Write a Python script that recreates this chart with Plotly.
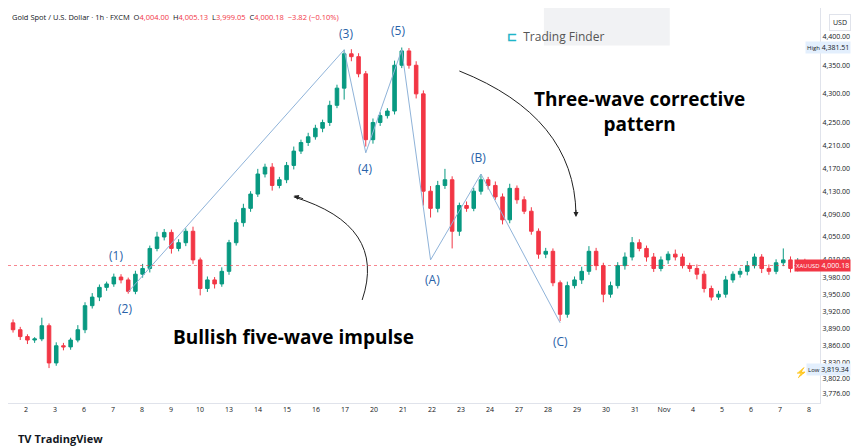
import plotly.graph_objects as go

# ---- data (hourly-ish candles) ----
closes = [3888,3876,3870,3872,3895,3830,3860,3858,3870,3888,
          3930,3945,3962,3968,3980,3975,3955,3985,3995,4030,
          4050,4058,4030,4040,4060,4010,3960,3975,3968,3990,
          4040,4075,4100,4125,4160,4172,4140,4150,4175,4200,
          4215,4225,4240,4250,4280,4310,4370,4365,4335,4220,
          4250,4262,4270,4350,4375,4350,4300,4130,4100,4140,
          4150,4060,4105,4100,4130,4150,4140,4120,4080,4135,
          4115,4095,4060,4020,4025,3970,3915,3965,3975,3990,
          4025,4000,3950,3965,4000,4015,4040,4030,4015,3995,
          4010,4020,4015,4000,3995,3985,3960,3945,3950,3975,
          3985,3990,4000,4015,3995,3990,4005,4010,3995,4008,4000.18]
first_open = 3900
upper_wick = [6,5,4,3,14,4,6,5,4,8,6,7,5,4,6,5,4,6,8,5,
              9,6,5,6,5,8,4,6,5,7,5,6,8,5,9,6,7,5,6,8,
              5,7,6,5,8,6,7,8,6,5,7,6,5,8,6,5,7,6,9,8,
              19,6,5,7,6,10,5,7,6,8,5,6,7,5,6,5,4,7,6,8,
              9,6,5,7,6,8,10,6,5,7,6,5,8,6,5,7,6,5,6,7,
              5,6,8,6,5,7,6,20,6,5,4]
lower_wick = [5,6,7,5,4,9,5,6,5,4,6,5,7,6,5,6,4,5,6,7,
              5,6,9,5,6,7,12,6,8,5,6,5,7,6,5,6,9,5,6,7,
              5,6,5,7,6,5,20,8,6,12,7,6,5,6,5,6,8,25,16,7,
              6,30,8,6,5,6,7,5,8,6,7,5,6,8,7,6,12,6,5,7,
              6,8,14,6,5,7,6,5,8,6,5,7,6,5,6,9,7,6,5,6,
              5,6,7,5,8,6,5,6,7,5,4]
day_labels = ["2","3","6","7","8","9","10","13","14","15","16","17","20","21",
              "22","23","24","27","28","29","30","31","Nov","4","5","6","7","8"]
y_ticks = [4400,4350,4300,4250,4210,4170,4130,4090,4050,4010,3980,3950,3920,
           3890,3860,3830,3802,3776]
wave_x = [16, 46, 49, 54, 58, 65, 76]
wave_y = [3954, 4377, 4197, 4377, 4010, 4160, 3900]
last_price = 4000.18
high_price = 4381.51
low_price = 3819.34

n = len(closes)
idx = list(range(n))
opens = [first_open] + closes[:-1]
highs = [max(o, c) + w for o, c, w in zip(opens, closes, upper_wick)]
lows = [min(o, c) - w for o, c, w in zip(opens, closes, lower_wick)]

UP = "#089981"; DN = "#f23645"; BLUE = "#2962a8"

fig = go.Figure()
fig.add_trace(go.Candlestick(x=idx, open=opens, high=highs, low=lows, close=closes,
    increasing=dict(line=dict(color=UP, width=1), fillcolor=UP),
    decreasing=dict(line=dict(color=DN, width=1), fillcolor=DN),
    whiskerwidth=0, showlegend=False, hoverinfo="skip"))
fig.add_trace(go.Scatter(x=wave_x, y=wave_y, mode="lines",
    line=dict(color="#8fb3d9", width=1), showlegend=False, hoverinfo="skip"))

fig.add_hline(y=last_price, line=dict(color=DN, width=1, dash="dot"), opacity=0.6)

lbl_pos = {"(1)": (14.3, 4018), "(2)": (15.6, 3925), "(3)": (46.3, 4405),
           "(4)": (48.9, 4170), "(5)": (53.5, 4410), "(A)": (58.2, 3975),
           "(B)": (64.6, 4188), "(C)": (76, 3868)}
for t, (xx, yy) in lbl_pos.items():
    fig.add_annotation(x=xx, y=yy, text=t, showarrow=False,
                       font=dict(size=12, color=BLUE, family="Open Sans"))

fig.add_annotation(x=39, y=3875, text="<b>Bullish five-wave impulse</b>", showarrow=False,
                   font=dict(size=19, color="#000", family="Open Sans"))
fig.add_annotation(x=87, y=4270, text="<b>Three-wave corrective<br>pattern</b>", showarrow=False,
                   font=dict(size=19, color="#000", family="Open Sans"))

fig.add_shape(type="path", path="M 48.5,3940 Q 52,4070 39,4120",
              line=dict(color="#222", width=1))
fig.add_annotation(x=39, y=4122, ax=40.5, ay=4116, xref="x", yref="y", axref="x", ayref="y",
                   showarrow=True, arrowhead=2, arrowsize=1, arrowwidth=1, arrowcolor="#222", text="")
fig.add_shape(type="path", path="M 62,4340 Q 78,4260 78.2,4090",
              line=dict(color="#222", width=1))
fig.add_annotation(x=78.2, y=4085, ax=78.2, ay=4100, xref="x", yref="y", axref="x", ayref="y",
                   showarrow=True, arrowhead=2, arrowsize=1, arrowwidth=1, arrowcolor="#222", text="")

RX = 1.038
fig.add_annotation(xref="paper", x=RX, xanchor="right", y=last_price, yref="y",
    text="<span style='font-size:6px'>XAUUSD</span> 4,000.18", showarrow=False,
    font=dict(size=7, color="white"), bgcolor=DN, borderpad=1)
fig.add_annotation(xref="paper", x=RX, xanchor="right", y=high_price, yref="y",
    text="<span style='font-size:6px'>High</span> 4,381.51", showarrow=False,
    font=dict(size=7, color="#131722"), bgcolor="#e3effd", borderpad=1)
fig.add_annotation(xref="paper", x=RX, xanchor="right", y=low_price, yref="y",
    text="<span style='font-size:6px'>Low</span> 3,819.34", showarrow=False,
    font=dict(size=7, color="#131722"), bgcolor="#e3effd", borderpad=1)
fig.add_annotation(xref="paper", yref="paper", x=RX, xanchor="right", y=0.985, text="USD",
    showarrow=False, font=dict(size=7, color="#131722"),
    bordercolor="#e0e3eb", borderwidth=1, borderpad=3)

fig.add_annotation(xref="paper", yref="paper", x=0.003, y=0.995, xanchor="left", yanchor="top",
    showarrow=False, font=dict(size=7.5, color="#131722", family="Open Sans"),
    text=("Gold Spot / U.S. Dollar · 1h · FXCM  O<span style='color:#f23645'>4,004.00</span>  "
          "H<span style='color:#f23645'>4,005.13</span>  L<span style='color:#f23645'>3,999.05</span>  "
          "C<span style='color:#f23645'>4,000.18</span>  <span style='color:#f23645'>−3.82 (−0.10%)</span>"))

fig.add_shape(type="rect", xref="paper", yref="paper", x0=0.66, x1=0.815, y0=0.905, y1=1.0,
              fillcolor="#f1f2f4", line=dict(width=0), layer="below")
fig.add_annotation(xref="paper", yref="paper", x=0.737, y=0.955, showarrow=False,
    text="<b><span style='color:#1fb5c8'>⊏</span></b>  Trading Finder",
    font=dict(size=12, color="#555", family="Open Sans"))

fig.add_annotation(xref="paper", yref="paper", x=0.01, y=-0.089, xanchor="left", yanchor="middle",
    showarrow=False, text="<b>TV TradingView</b>", font=dict(size=11, color="#131722", family="Open Sans"))
fig.add_annotation(xref="x", yref="paper", x=109.5, y=0.055, showarrow=False,
    text="⚡", font=dict(size=10, color="#9c27b0"))

tick_pos = [(18 + 29 * d - 5) / 7.2 for d in range(len(day_labels))]
fig.update_layout(
    width=860, height=446, margin=dict(l=0, r=48, t=0, b=51),
    paper_bgcolor="white", plot_bgcolor="white",
    font=dict(family="Open Sans", size=7, color="#131722"),
    xaxis=dict(range=[-0.7, 112.1], tickvals=tick_pos, ticktext=day_labels,
               showgrid=False, zeroline=False, rangeslider=dict(visible=False),
               showline=True, linecolor="#e0e3eb", ticks="", tickfont=dict(size=7)),
    yaxis=dict(range=[3760, 4450], side="right", tickvals=y_ticks,
               ticktext=[f"{v:,.2f}" for v in y_ticks], showgrid=False, zeroline=False,
               showline=True, linecolor="#e0e3eb", tickfont=dict(size=7), ticks=""),
)
fig.write_html("out.html")
